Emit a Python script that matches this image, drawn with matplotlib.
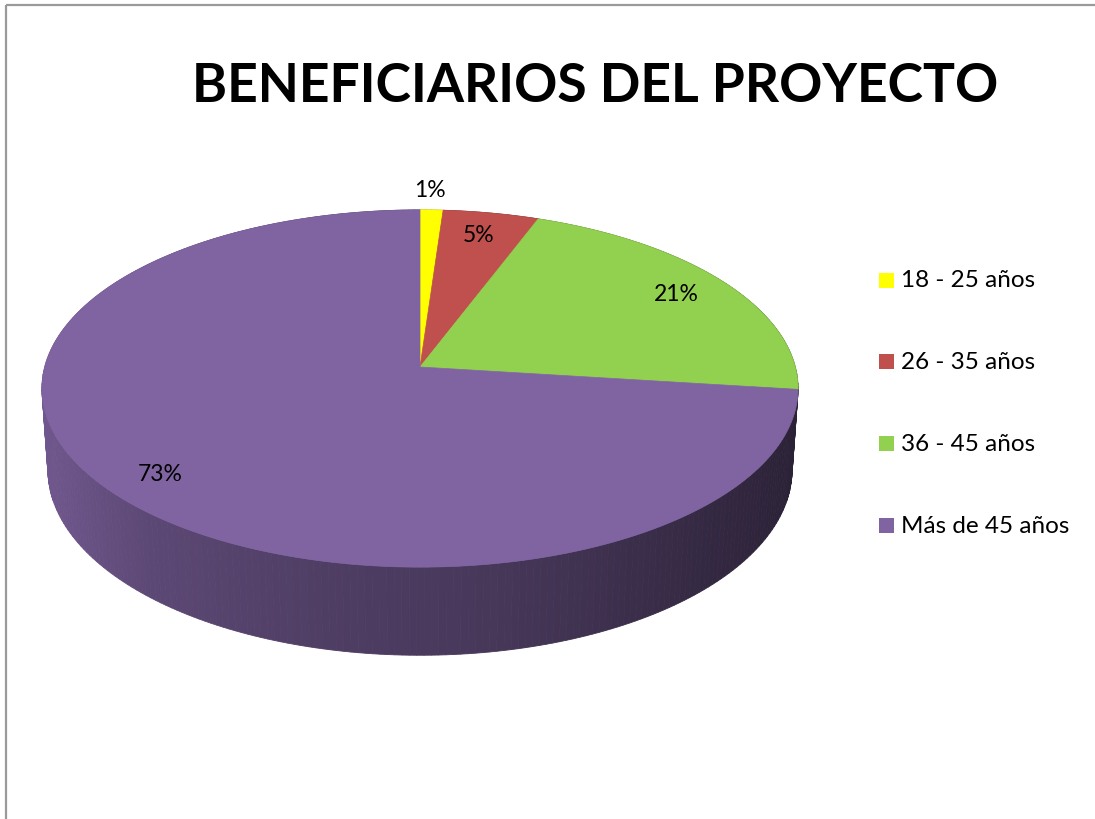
import numpy as np
import matplotlib
matplotlib.use("Agg")
import matplotlib.pyplot as plt
import matplotlib.colors as mcolors
from matplotlib.patches import Polygon, Rectangle

# ---------------- data ----------------
title = "BENEFICIARIOS DEL PROYECTO"
categories = ["18 - 25 años", "26 - 35 años", "36 - 45 años", "Más de 45 años"]
values = [1.1, 4.6, 21.3, 73.0]          # percent
colors = ["#FFFF00", "#C0504D", "#92D050", "#8064A2"]

FONT = ["Lato", "DejaVu Sans"]

W, H = 1095, 820
fig = plt.figure(figsize=(W / 100, H / 100), dpi=100)
ax = fig.add_axes([0, 0, 1, 1])
ax.set_xlim(0, W)
ax.set_ylim(H, 0)
ax.axis("off")

# ---------------- 3D perspective pie ----------------
CX, CY = 420, 368          # projected pie centre
sin_e = 0.469
elev = np.arcsin(sin_e)
s, c = np.sin(elev), np.cos(elev)
DIST = 7.33                # camera distance (in radii)
FOC = 2751                 # focal scale (px)
DEPTH = 0.2476             # thickness (in radii)


def proj(t, z, r=1.0):
    x = r * np.sin(t)
    y = r * np.cos(t)
    v = y * s + z * c
    w = -y * c + z * s
    k = FOC / (DIST - w)
    return CX + x * k, CY - v * k


def side_shade(xpix):
    xs = [42, 150, 300, 500, 650, 797]
    fs = [0.88, 0.72, 0.63, 0.55, 0.45, 0.34]
    return np.interp(xpix, xs, fs)


total = float(sum(values))
fr = np.array(values) / total
cum = np.concatenate([[0], np.cumsum(fr)])
starts = 2 * np.pi * cum[:-1]
ends = 2 * np.pi * cum[1:]

# side strips (back to front)
strips = []
for i in range(len(values)):
    n = max(4, int((ends[i] - starts[i]) / np.radians(1.0)))
    ts = np.linspace(starts[i], ends[i], n + 1)
    for a, b in zip(ts[:-1], ts[1:]):
        xa, ya = proj(a, 0)
        xb, yb = proj(b, 0)
        xb2, yb2 = proj(b, -DEPTH)
        xa2, ya2 = proj(a, -DEPTH)
        depth = -np.cos((a + b) / 2)
        strips.append((depth, i, [(xa, ya), (xb, yb), (xb2, yb2), (xa2, ya2)]))
strips.sort(key=lambda q: q[0])
for depth, i, pts in strips:
    xm = np.mean([p[0] for p in pts])
    base = np.array(mcolors.to_rgb(colors[i]))
    col = np.clip(base * side_shade(xm), 0, 1)
    ax.add_patch(Polygon(pts, closed=True, facecolor=col, edgecolor=col,
                         linewidth=0.6, zorder=1))

# top faces
for i in range(len(values)):
    ts = np.linspace(starts[i], ends[i], 200)
    xs, ys = proj(ts, 0)
    pts = [(CX, CY)] + list(zip(xs, ys))
    ax.add_patch(Polygon(pts, closed=True, facecolor=colors[i],
                         edgecolor=colors[i], linewidth=0.5, zorder=2))

# data labels
for i, v in enumerate(values):
    mid = (starts[i] + ends[i]) / 2
    r = 1.15 if v / total < 0.02 else 0.85
    lx, ly = proj(mid, 0, r)
    ax.text(lx - 3, ly, f"{v / total * 100:.0f}%", ha="center", va="center",
            fontsize=16.5, family=FONT, color="black", zorder=3)

# ---------------- title ----------------
ax.text(595, 87, title, ha="center", va="center", fontsize=38.5,
        fontweight="bold", family=FONT, color="black")

# ---------------- legend ----------------
for i, (cat, col) in enumerate(zip(categories, colors)):
    yc = 281 + i * 81.7
    ax.add_patch(Rectangle((879, yc - 7.5), 15, 15, facecolor=col,
                           edgecolor="none"))
    ax.text(901, yc, cat, ha="left", va="center", fontsize=17.5,
            family=FONT, color="black")

# ---------------- border ----------------
ax.plot([6, W], [6, 6], color="#9a9a9a", lw=1.6, solid_capstyle="butt")
ax.plot([6, 6], [6, H], color="#9a9a9a", lw=1.6, solid_capstyle="butt")

fig.savefig("out.png", dpi=100, facecolor="white")
